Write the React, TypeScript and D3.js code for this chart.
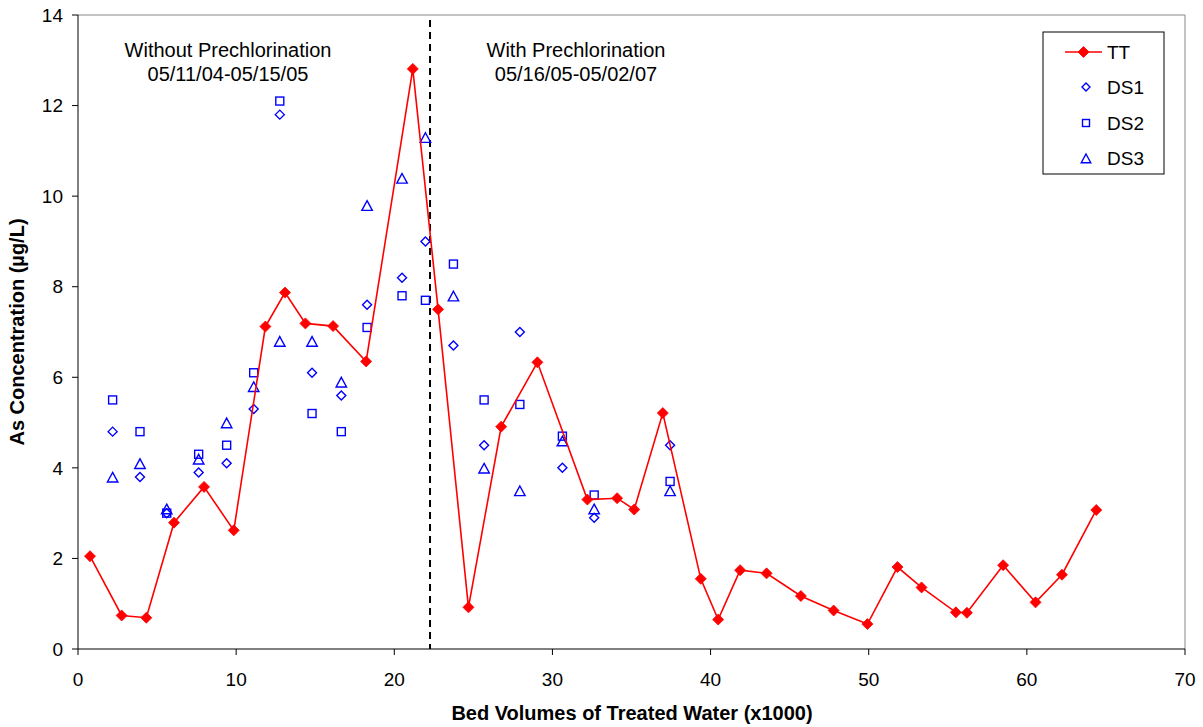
import React from "react";
import * as d3 from "d3";

const ttX = [0.76, 2.76, 4.32, 6.07, 7.97, 9.85, 11.85, 13.09, 14.38, 16.13, 18.22, 21.17, 22.77, 24.69, 26.76, 29.05, 32.21, 34.09, 35.17, 36.98, 39.38, 40.48, 41.87, 43.54, 45.71, 47.78, 49.92, 51.82, 53.34, 55.51, 56.21, 58.5, 60.55, 62.22, 64.39];
const ttY = [2.05, 0.74, 0.69, 2.79, 3.58, 2.62, 7.12, 7.87, 7.19, 7.13, 6.35, 12.81, 7.5, 0.92, 4.91, 6.33, 3.3, 3.33, 3.08, 5.21, 1.55, 0.65, 1.74, 1.67, 1.17, 0.85, 0.55, 1.81, 1.36, 0.81, 0.8, 1.85, 1.03, 1.64, 3.07];

const dsX = [2.19, 3.92, 5.61, 7.63, 9.4, 11.11, 12.76, 14.8, 16.65, 18.28, 20.49, 21.97, 23.74, 25.68, 27.94, 30.63, 32.64, 37.44];
const ds1Y = [4.8, 3.8, 3.0, 3.9, 4.1, 5.3, 11.8, 6.1, 5.6, 7.6, 8.2, 9.0, 6.7, 4.5, 7.0, 4.0, 2.9, 4.5];
const ds2Y = [5.5, 4.8, 3.0, 4.3, 4.5, 6.1, 12.1, 5.2, 4.8, 7.1, 7.8, 7.7, 8.5, 5.5, 5.4, 4.7, 3.4, 3.7];
const ds3Y = [3.8, 4.1, 3.1, 4.2, 5.0, 5.8, 6.8, 6.8, 5.9, 9.8, 10.4, 11.3, 7.8, 4.0, 3.5, 4.6, 3.1, 3.5];

const xTicks = [0, 10, 20, 30, 40, 50, 60, 70];
const yTicks = [0, 2, 4, 6, 8, 10, 12, 14];
const dividerX = 22.26;
const legendLabels = ["TT", "DS1", "DS2", "DS3"];

const W = 1203, H = 727;
const L = 78, R = 1185, T = 15, B = 649;
const FONT = "Liberation Sans, Arial, sans-serif";

export default function App() {
  const x = d3.scaleLinear().domain([0, 70]).range([L, R]);
  const y = d3.scaleLinear().domain([0, 14]).range([B, T]);
  const line = d3.line<number>().x((_, i) => x(ttX[i])).y((d) => y(d));

  const diamond = (cx: number, cy: number, r: number) =>
    `M${cx},${cy - r}L${cx + r},${cy}L${cx},${cy + r}L${cx - r},${cy}Z`;
  const tri = (cx: number, cy: number, r: number) =>
    `M${cx},${cy - r}L${cx + r * 0.95},${cy + r * 0.75}L${cx - r * 0.95},${cy + r * 0.75}Z`;
  const blue = "#0000FF";
  const red = "#FF0000";

  const lgX = 1043, lgY = 32, lgW = 121, lgH = 142;
  const rowY = [52, 87, 123, 158];

  return (
    <svg width={W} height={H} style={{ position: "absolute", left: 0, top: 0, background: "#fff" }} fontFamily={FONT}>
      <rect x={0} y={0} width={W} height={H} fill="#fff" />
      <line x1={L} y1={T} x2={R} y2={T} stroke="#888" strokeWidth={1} />
      <line x1={R} y1={T} x2={R} y2={B} stroke="#888" strokeWidth={1} />
      <line x1={L} y1={T} x2={L} y2={B} stroke="#000" strokeWidth={1} />
      <line x1={L} y1={B} x2={R} y2={B} stroke="#000" strokeWidth={1} />
      {yTicks.map((t) => (
        <g key={"y" + t}>
          <line x1={L - 6} x2={L} y1={y(t)} y2={y(t)} stroke="#000" />
          <text x={L - 15} y={y(t)} dy="0.35em" textAnchor="end" fontSize={19} fill="#000">{t}</text>
        </g>
      ))}
      {xTicks.map((t) => (
        <g key={"x" + t}>
          <line x1={x(t)} x2={x(t)} y1={B} y2={B + 6} stroke="#000" />
          <text x={x(t)} y={686} textAnchor="middle" fontSize={19} fill="#000">{t}</text>
        </g>
      ))}
      <text x={632} y={720} textAnchor="middle" fontSize={20} fontWeight="bold" fill="#000">Bed Volumes of Treated Water (x1000)</text>
      <text transform={`translate(24,${(T + B) / 2}) rotate(-90)`} textAnchor="middle" fontSize={20} fontWeight="bold" fill="#000">As Concentration (µg/L)</text>

      <line x1={x(dividerX)} x2={x(dividerX)} y1={20} y2={B} stroke="#000" strokeWidth={2} strokeDasharray="7,5" />

      <text x={228} y={57} textAnchor="middle" fontSize={20} fill="#000">Without Prechlorination</text>
      <text x={228} y={81} textAnchor="middle" fontSize={20} fill="#000">05/11/04-05/15/05</text>
      <text x={576} y={57} textAnchor="middle" fontSize={20} fill="#000">With Prechlorination</text>
      <text x={576} y={81} textAnchor="middle" fontSize={20} fill="#000">05/16/05-05/02/07</text>

      {dsX.map((d, i) => (
        <g key={"ds" + i} fill="none" stroke={blue} strokeWidth={1.4}>
          <path d={diamond(x(d), y(ds1Y[i]), 4.5)} />
          <rect x={x(d) - 4} y={y(ds2Y[i]) - 4} width={8} height={8} />
          <path d={tri(x(d), y(ds3Y[i]) + 1, 5.5)} />
        </g>
      ))}

      <path d={line(ttY) || ""} fill="none" stroke={red} strokeWidth={1.6} />
      {ttY.map((v, i) => (
        <path key={"tt" + i} d={diamond(x(ttX[i]), y(v), 5.5)} fill={red} stroke={red} strokeWidth={0.8} />
      ))}

      <rect x={lgX} y={lgY} width={lgW} height={lgH} fill="#fff" stroke="#000" strokeWidth={1} />
      <line x1={1065} x2={1102} y1={rowY[0]} y2={rowY[0]} stroke={red} strokeWidth={1.6} />
      <path d={diamond(1083.5, rowY[0], 5.5)} fill={red} stroke={red} strokeWidth={0.8} />
      <path d={diamond(1086, rowY[1], 4)} fill="none" stroke={blue} strokeWidth={1.4} />
      <rect x={1082.5} y={rowY[2] - 3.5} width={7} height={7} fill="none" stroke={blue} strokeWidth={1.4} />
      <path d={tri(1086, rowY[3] + 1, 5)} fill="none" stroke={blue} strokeWidth={1.4} />
      {legendLabels.map((l, i) => (
        <text key={l} x={1107} y={rowY[i]} dy="0.35em" fontSize={19} fill="#000">{l}</text>
      ))}
    </svg>
  );
}
